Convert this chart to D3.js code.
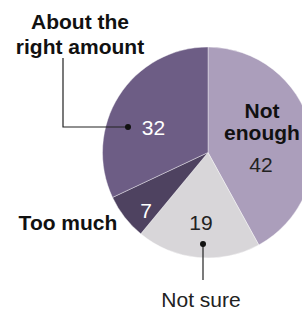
<!DOCTYPE html>
<html>
<head>
<meta charset="utf-8">
<script src="https://cdn.jsdelivr.net/npm/d3@7"></script>
<style>
  body { margin: 0; background: #fff; }
  svg { display: block; font-family: "Liberation Sans", Arial, sans-serif; }
</style>
</head>
<body>
<svg id="chart"></svg>
<script>
// slice order clockwise from 12 o'clock
const categories = ["Not enough", "Not sure", "Too much", "About the right amount"]
const values = [42, 19, 7, 32]
const colors = ["#ab9ebb", "#d8d6d9", "#4e4260", "#6d5d85"]
const valueColors = ["#222", "#222", "#fff", "#fff"]

const width = 302
const height = 311
const cx = 208
const cy = 152.5
const radius = 105.5

const svg = d3.select("#chart")
    .attr("width", width)
    .attr("height", height)

const pie = d3.pie()
    .sort(null)
    .value(d => d)

const arcs = pie(values)

const arc = d3.arc()
    .innerRadius(0)
    .outerRadius(radius)

const g = svg.append("g")
    .attr("transform", `translate(${cx},${cy})`)

g.selectAll("path")
    .data(arcs)
    .join("path")
    .attr("d", arc)
    .attr("fill", (d, i) => colors[i])
    .attr("stroke", "#fff")
    .attr("stroke-width", 0.4)

// value labels: offset from pie center (placed by hand like the original)
const valueOffsets = [[53, 12], [-7, 70], [-62, 58], [-54.5, -25]]
g.selectAll("text.value")
    .data(arcs)
    .join("text")
    .attr("class", "value")
    .attr("x", (d, i) => valueOffsets[i][0])
    .attr("y", (d, i) => valueOffsets[i][1])
    .attr("dy", "0.35em")
    .attr("text-anchor", "middle")
    .style("font-size", "21px")
    .style("fill", (d, i) => valueColors[i])
    .text(d => d.data)

// category labels
const bold = { "font-size": "21px", "font-weight": "bold", "fill": "#111" }

function label(x, y, lines, style, lh) {
    const t = svg.append("text")
        .attr("text-anchor", "middle")
    Object.entries(style).forEach(([k, v]) => t.style(k, v))
    lines.forEach((s, i) => {
        t.append("tspan").attr("x", x).attr("y", y + i * lh).text(s)
    })
}

label(80, 29, ["About the", "right amount"], bold, 25)
label(262, 118, ["Not", "enough"], bold, 22)
label(68, 230, [categories[2]], bold, 0)
label(201, 307, [categories[1]], { "font-size": "21px", "fill": "#222" }, 0)

// leader lines
svg.append("path")
    .attr("d", "M63,58 V127 H128")
    .attr("fill", "none")
    .attr("stroke", "#222")
    .attr("stroke-width", 1.2)
svg.append("circle").attr("cx", 128).attr("cy", 127).attr("r", 3).attr("fill", "#111")

svg.append("line")
    .attr("x1", 203).attr("x2", 203)
    .attr("y1", 244).attr("y2", 280)
    .attr("stroke", "#222")
    .attr("stroke-width", 1.2)
svg.append("circle").attr("cx", 203).attr("cy", 244).attr("r", 3).attr("fill", "#111")
</script>
</body>
</html>
